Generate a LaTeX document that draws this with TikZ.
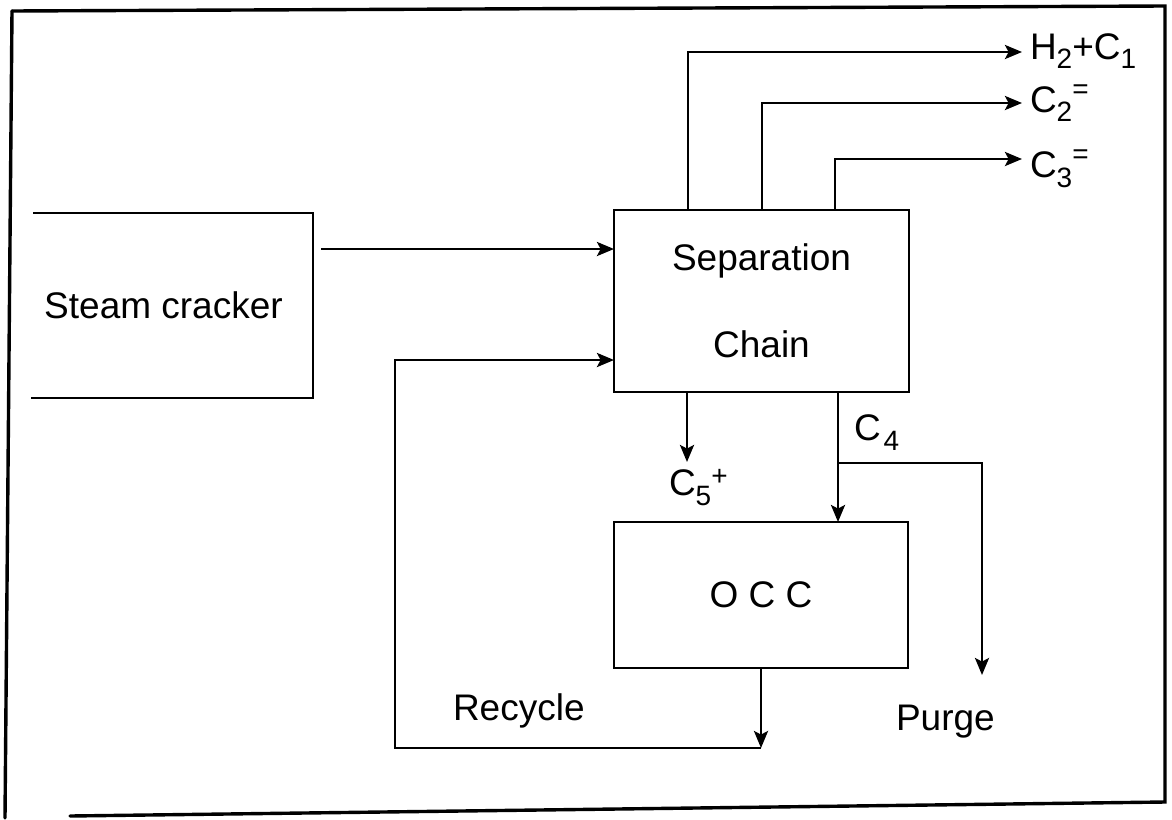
\documentclass[tikz,border=0pt]{standalone}
\usepackage{fontspec}
\setmainfont{Liberation Sans}
\usetikzlibrary{arrows.meta,calc}
\newcommand\lsub[1]{\raisebox{-5pt}{\fontsize{14}{14}\selectfont #1}}
\newcommand\lsup[2]{\raisebox{#1}{\fontsize{14}{14}\selectfont #2}}
\begin{document}
\begin{tikzpicture}[x=0.5pt,y=-0.5pt,
  every node/.style={font=\fontsize{18.5}{22}\selectfont},
  box/.style={draw, line width=1.4pt, inner sep=0pt, outer sep=0pt, align=center},
  lbl/.style={anchor=base west, inner sep=0pt, outer sep=0pt},
  arr/.style={line width=1.4pt, -{Stealth[length=8.5pt,width=7pt,inset=1.8pt]}},
  wire/.style={line width=1.4pt},
  frame/.style={line width=1.7pt, line cap=round}]
\useasboundingbox[fill=white] (0,0) rectangle (1172,819);

% frame
\draw[frame] (12,11) -- (1165,6) -- (1165,802) -- (70,816);
\draw[frame] (12,11) -- (5,818);

% blocks
\node[inner sep=0pt, outer sep=0pt, minimum width=149.5pt, minimum height=92.5pt] (steam) at (163.5,305.5) {Steam cracker};
\draw[wire] ($(steam.north west)+(19,0)$) -- (steam.north east) -- (steam.south east) -- ($(steam.south west)+(17,0)$);

\node[box, minimum width=147.5pt, minimum height=91pt, font=\fontsize{18.5}{43.5}\selectfont] (sep) at (761.5,301) {Separation\\Chain};
\node[box, minimum width=147pt, minimum height=73pt] (occ) at (761,595) {O C C};

% labels
\node[lbl] (lh) at (1030,59) {H\lsub{2}+C\lsub{1}};
\node[lbl] (lc2) at (1030,112) {C\lsub{2}\lsup{7pt}{=}};
\node[lbl] (lc3) at (1030,177) {C\lsub{3}\lsup{7pt}{=}};
\node[lbl] (c5) at (669,495) {C\lsub{5}\lsup{5pt}{+}};
\node[lbl] (c4) at (854,440) {C\hspace{1.5pt}\lsub{4}};
\node[lbl] (purge) at (896,730) {Purge};
\node[lbl] (recy) at (453,720) {Recycle};

% top products
\draw[arr] ($(sep.north)+(-73.5,0)$) |- ($(lh.base west)+(-8,-7)$);
\draw[arr] ($(sep.north)+(0.5,0)$) |- ($(lc2.base west)+(-8,-9)$);
\draw[arr] ($(sep.north)+(73.5,0)$) |- ($(lc3.base west)+(-8,-18)$);

% feed
\draw[arr] ($(steam.north east)+(8,36)$) coordinate (f) -- (f -| sep.west);

% C5+
\draw[arr] ($(sep.south)+(-74.5,0)$) -- ($(c5.base west)+(18,-33)$);

% C4 to OCC and purge
\draw[arr] ($(sep.south)+(76.5,0)$) coordinate (c4a) -- (c4a |- occ.north);
\coordinate (pg) at ($(purge.base west)+(86,-55)$);
\draw[arr] ($(c4a)+(0,71)$) -| (pg);

% recycle
\coordinate (rl) at (395,748);
\coordinate (rin) at ($(sep.north west)+(0,150)$);
\draw[arr] (occ.south) -- (occ.south |- rl);
\draw[arr] (occ.south |- rl) -- (rl) -- (rl |- rin) -- (rin);
\end{tikzpicture}
\end{document}
